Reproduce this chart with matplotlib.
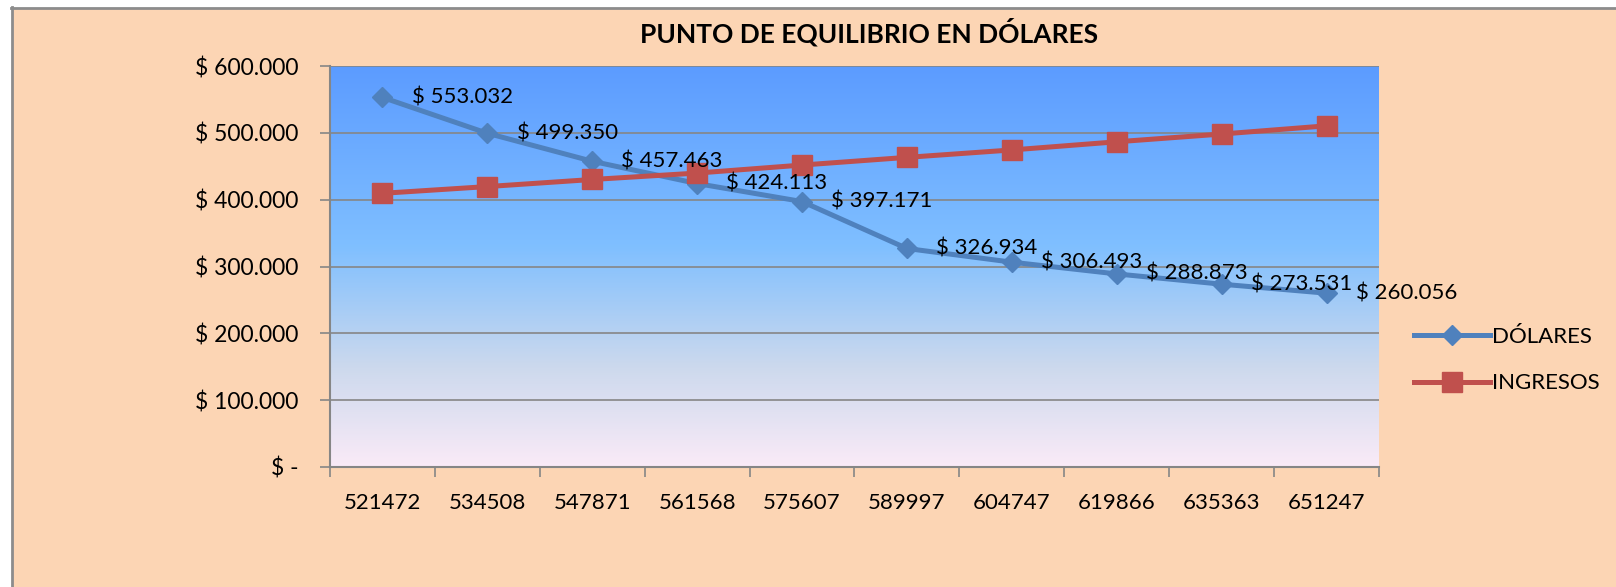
import numpy as np
import matplotlib.pyplot as plt
from matplotlib.colors import LinearSegmentedColormap
from matplotlib.patches import Rectangle

categorias = ['521472', '534508', '547871', '561568', '575607',
              '589997', '604747', '619866', '635363', '651247']
dolares = [553032, 499350, 457463, 424113, 397171,
           326934, 306493, 288873, 273531, 260056]
ingresos = [409500, 419600, 430200, 439800, 451800,
            463300, 474400, 486600, 498200, 510500]
etiquetas = ['$ 553.032', '$ 499.350', '$ 457.463', '$ 424.113', '$ 397.171',
             '$ 326.934', '$ 306.493', '$ 288.873', '$ 273.531', '$ 260.056']
yticks = [0, 100000, 200000, 300000, 400000, 500000, 600000]
ylabels = ['$ -', '$ 100.000', '$ 200.000', '$ 300.000',
           '$ 400.000', '$ 500.000', '$ 600.000']

plt.rcParams['font.family'] = ['Lato', 'DejaVu Sans']

fig = plt.figure(figsize=(16.16, 5.87), dpi=100)
fig.patch.set_facecolor('white')

# chart area (peach) with grey border on top/left
fig.patches.append(Rectangle((12/1616, 0), 1 - 12/1616, 1 - 8/587, transform=fig.transFigure,
                             facecolor='#FCD5B4', edgecolor='none', zorder=-10))
fig.add_artist(plt.Line2D([11/1616, 1], [1 - 7.5/587, 1 - 7.5/587], transform=fig.transFigure,
                          color='#8C8C8C', lw=2, zorder=-9))
fig.add_artist(plt.Line2D([11.5/1616, 11.5/1616], [0, 1 - 7/587], transform=fig.transFigure,
                          color='#8C8C8C', lw=2, zorder=-9))

ax = fig.add_axes([330/1616, 1 - 467/587, (1379 - 330)/1616, (467 - 66)/587])
ax.set_facecolor('none')

# gradient background
cmap = LinearSegmentedColormap.from_list('fondo', [
    (0.0, (0.36, 0.61, 1.0)),
    (0.45, (0.50, 0.75, 1.0)),
    (0.75, (0.80, 0.85, 0.93)),
    (1.0, (0.98, 0.92, 0.97))])
grad = np.linspace(0, 1, 256).reshape(-1, 1)
ax.imshow(grad, cmap=cmap, aspect='auto', extent=[-0.5, 9.5, 0, 600000],
          origin='upper', zorder=0)

x = np.arange(len(categorias))
ax.plot(x, dolares, color='#4F81BD', lw=3.6, marker='D', ms=10,
        label='DÓLARES', zorder=3)
ax.plot(x, ingresos, color='#C0504D', lw=3.6, marker='s', ms=14,
        label='INGRESOS', zorder=3)

for xi, yi, t in zip(x, dolares, etiquetas):
    ax.annotate(t, (xi, yi), xytext=(21, 0), textcoords='offset points',
                ha='left', va='center', fontsize=16, color='black', zorder=5)

ax.set_xlim(-0.5, 9.5)
ax.set_ylim(0, 600000)
ax.set_yticks(yticks)
ax.set_yticklabels(ylabels, fontsize=16.5)
ax.yaxis.grid(True, color='#868686', lw=1.2)
ax.set_axisbelow(False)
for gl in ax.get_ygridlines():
    gl.set_zorder(1)

ax.set_xticks(np.arange(-0.5, 10, 1))
ax.set_xticklabels([])
ax.set_xticks(x, minor=True)
ax.set_xticklabels(categorias, minor=True, fontsize=16)
ax.tick_params(axis='x', which='major', length=7, color='#868686', width=1.2)
ax.tick_params(axis='x', which='minor', length=0, pad=19)
ax.tick_params(axis='y', length=7, color='#868686', width=1.2, pad=16)

for s in ['top', 'right']:
    ax.spines[s].set_visible(False)
for s in ['left', 'bottom']:
    ax.spines[s].set_color('#868686')
    ax.spines[s].set_linewidth(1.5)

fig.text(869/1616, 1 - 32/587, 'PUNTO DE EQUILIBRIO EN DÓLARES', ha='center', va='center',
         fontsize=19, fontweight='bold')

fig.legend(loc='center left', bbox_to_anchor=(1394/1616, 1 - 360/587), frameon=False,
           fontsize=16, handlelength=3.4, handletextpad=0.1, labelspacing=1.2)

fig.savefig('out.png', dpi=100, facecolor=fig.get_facecolor())
